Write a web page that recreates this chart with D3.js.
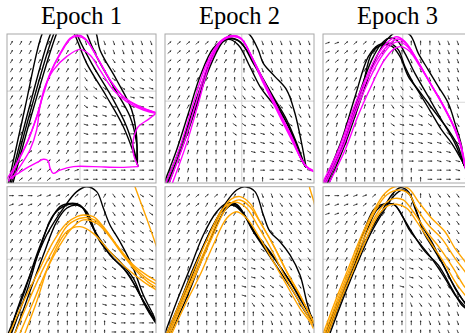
<!DOCTYPE html>
<html><head><meta charset="utf-8">
<script src="https://cdn.jsdelivr.net/npm/d3@7"></script>
<style>html,body{margin:0;padding:0;background:#fff;overflow:hidden}</style>
</head><body>
<svg id="chart" width="465" height="333"></svg>
<script>
// ---------------- DATA (normalized panel coordinates 0..100, y up) ----------------
const titles = ["Epoch 1", "Epoch 2", "Epoch 3"];

// vertical / horizontal grid line positions per panel (row-major: top E1,E2,E3, bottom E1,E2,E3)
const gridX = [49, 51.5, 53.5, 56, 55.5, 55.5];
const gridY = [61.7, 55, 54.2, 51.3, 51.3, 51.3];

// black (reference) trajectories, top row
const blackTop1 = [
  [[1,0],[12.2,51],[23.3,99.3],[30,112],[38,115],[45.6,99.3],[53.5,80.3],[66.9,57.9],[78.1,37.8],[85.9,17.7],[88.1,11]],
  [[2,0],[15,51],[28.9,99.3],[36,114],[42,116],[47.2,99.3],[56.8,80.3],[70.2,57.9],[80.3,37.8],[85.9,19.9],[87.5,12.1]],
  [[3,0],[16.5,51],[31.1,99.3],[40,118],[48,117],[53.9,99.3],[60.2,84.8],[71.4,64.7],[82.6,44.5],[87,26.6],[87.5,13.2]],
  [[4,0],[18,51],[32.9,99.3],[42,120],[54,120],[60.2,99.3],[62.4,89.3],[73.6,69.1],[83.7,49],[87,31],[87,13.2]]
];
const blackTop2 = [
  [[0.5,0],[11.2,26.6],[20.1,53.5],[28,75.8],[34.7,90.4],[42.5,96.4],[49.2,92.6],[57,78.1],[63.8,64.7],[70.5,55.7],[77.2,47.9],[83.9,35.6],[90.6,17.7],[94.6,10.5]],
  [[1.6,0],[13.4,28.9],[22.4,55.7],[30.2,80.3],[36.9,93.7],[41.4,97.1],[50.3,94.9],[59.3,80.3],[68.2,64.7],[77.2,49],[86.1,31.1],[91.7,15.4],[94.6,10.5]],
  [[-0.6,0],[7.8,22.1],[15.7,46.8],[23.5,71.4],[32.4,90.4],[40.3,96],[48.1,96],[54.8,89.3],[63.8,73.6],[72.7,57.9],[81.7,42.3],[88.4,26.6],[94,11]],
  [[2.8,0],[12.3,26.6],[21.3,53.5],[30.2,78.1],[38,93.7],[44.7,100.4],[50.3,104],[57,99.3],[62.6,89.3],[66,80.3],[73.8,71.4],[81.7,62.4],[87.2,46.8],[91.7,26.6],[94.6,11]]
];
const blackTop3 = [
  [[0.7,0],[12.5,28.9],[21.5,57.9],[30.4,84.8],[37.1,92.6],[45,93.7],[50.6,89.3],[55,78.1],[59.5,69.1],[66.2,57.9],[72.9,46.8],[79.6,35.6],[86.4,26.6],[94.2,13.2],[98,6]],
  [[1.9,0],[14.8,28.9],[26,62.4],[32.7,87],[39.4,92.6],[46.1,91.9],[51.7,84.8],[57.3,71.4],[64,62.4],[70.7,53.5],[77.4,44.5],[84.1,35.6],[90.8,24.4],[94.2,13.2],[98,6]],
  [[3,0],[13.6,26.6],[23.7,57.9],[32.7,82.6],[39.4,93.7],[43.8,97.1],[49.4,96],[55,87],[61.7,73.6],[70.7,57.9],[79.6,42.3],[88.6,26.6],[94.2,13.2],[98,6]],
  [[4.1,0],[15.9,28.9],[26,57.9],[34.9,82.6],[42.7,96],[50.6,102],[58.4,99.3],[64,87],[70.7,75.8],[77.4,64.7],[84.1,53.5],[88.6,40],[93.1,24.4],[94.2,13.2],[98,6]]
];
// magenta model trajectories, top row
const magentaTop1 = [
  [[-0.2,2.5],[6.5,13.2],[13.2,26.6],[19.9,44.5],[24.4,60.2],[28.9,73.6],[35.6,87],[42.3,97.1],[47.2,99.3],[52.3,97.1],[60.2,84.8],[69.1,69.1],[78.1,57.9],[89.3,51.2],[100,47.2]],
  [[1,1],[7.5,14.5],[14,28],[20.3,45.5],[24.8,60.8],[29.3,74],[36.2,87.3],[42.8,96.8],[47.5,98.4],[53,96],[61,83.5],[70,68],[79,57],[90,50.5],[100,47.2]],
  [[3.1,2.5],[8.7,11],[15.4,22.1],[19.9,35.6],[22.1,51.2],[25.5,64.7],[31.1,75.8],[40,84.8],[49,89.7],[55.7,85.9],[62.4,75.8],[71.4,62.4],[80.3,54.6],[91.5,49],[100,46.8]],
  [[100,46.8],[94.9,42.7],[88.1,37.8],[84.8,28.9],[84.8,19.9],[88.1,11]],
  [[88.1,11],[75.8,10.5],[57.9,11],[44.5,11],[35.6,8.7],[31.1,6.5],[28.9,10],[27.5,15],[24.4,15.9],[19.9,13.6],[11,8.7],[2,3.1]]
];
const magentaTop2 = [
  [[0.5,0],[10.1,24.4],[19,53.5],[28,80.3],[36.9,94.9],[43.6,98.7],[50.3,97.8],[57,87],[66,66.9],[74.9,49],[83.9,31.1],[90.6,17.7],[95.1,11],[99.1,8.7]],
  [[2.8,0],[12.3,25.5],[20.8,53.5],[29.1,80.3],[37.4,94.9],[44,98.5],[50.8,97.1],[58.2,84.8],[67.1,65.8],[76,47.9],[85,30],[91.1,16.5],[95.1,10.8],[99.4,8.2]],
  [[5,0],[14.5,26.6],[22.4,53.5],[30.2,80.3],[38,94.9],[44.7,98.2],[51.5,96.4],[59.3,82.6],[68.2,64.7],[77.2,46.8],[86.1,28.9],[91.7,15.4],[95.1,10.5],[99.6,7.6]]
];
const magentaTop3 = [
  [[-0.4,0],[10.3,22.1],[19.2,46.8],[28.2,69.1],[37.1,87],[43.8,94.9],[49.4,98.2],[55,94.9],[61.7,84.8],[70.7,69.1],[79.6,53.5],[88.6,35.6],[93.1,22.1],[94.9,13.2],[97,5]],
  [[0.7,0],[11.4,22.1],[20.4,46.8],[29.3,69.1],[38.3,85.9],[45,93.7],[50.1,96.6],[56.2,93.3],[62.9,83],[71.8,67.3],[80.8,51.7],[89.7,33.8],[93.5,21],[94.9,13.2],[97,5]],
  [[1.9,0],[12.5,22.1],[21.5,46.8],[30.4,68],[38.9,84.3],[45.6,92.6],[50.6,94.9],[56.8,91.5],[64,80.8],[72.9,65.6],[81.9,49.9],[90.4,32],[94,19.9],[94.9,13.2],[97,5]],
  [[4.1,0],[14.8,22.1],[23.7,45.6],[32.7,65.8],[40.5,81.4],[47.2,89.7],[51.7,91.5],[57.7,88.8],[65.1,78.1],[74,63.5],[83,47.9],[90.8,30],[94.2,17.7],[94.9,13.2],[97,5]]
];

// black (reference) trajectories, bottom row
const blackBot1 = [
  [[2,0],[4.2,9.4],[15.4,40.7],[26.6,67.6],[37.8,85.5],[46.8,96.7],[53.5,100],[60.2,96.7],[64.7,85.5],[69.1,74.3],[75.8,63.1],[84.8,45.2],[91.5,27.3],[98.2,13.9],[100,9.4]],
  [[0.2,0],[11,27.3],[19.9,54.2],[28.9,76.5],[35.6,86.6],[42.3,88.8],[49,87.7],[55.7,76.5],[62.4,63.1],[71.4,51.9],[80.3,43],[89.3,27.3],[96,16.1],[100,9.4]],
  [[2.4,0],[13.2,29.6],[22.1,58.6],[31.1,81],[40,87.7],[45.6,88.2],[51.2,85.5],[57.9,72.1],[66.9,58.6],[75.8,49.7],[84.8,38.5],[91.5,22.8],[98.2,11.7],[101,7]],
  [[4.7,0],[15.4,29.6],[24.4,54.2],[33.3,76.5],[40,85.5],[46.8,87.7],[53.5,83.2],[60.2,67.6],[69.1,54.2],[78.1,45.2],[87,31.8],[93.7,18.4],[100,8.3]]
];
const blackBot2 = [
  [[0.5,0],[10.1,22.8],[19,45.2],[30.2,69.8],[41.4,90],[48.1,97.8],[53.7,100],[60.4,96.7],[66,81],[70.5,69.8],[77.2,63.1],[83.9,54.2],[90.6,40.7],[95.1,22.8],[98.4,11.7],[100,6]],
  [[-0.6,0],[7.8,22.8],[16.8,45.2],[25.7,67.6],[34.7,83.2],[41.4,88.8],[48.1,88.2],[54.8,78.8],[61.5,67.6],[70.5,56.4],[79.4,43],[88.4,29.6],[95.1,18.4],[99.1,11.7]],
  [[1.6,0],[11.2,22.8],[20.1,45.2],[29.1,67.6],[38,83.2],[44.7,87.7],[51.5,83.2],[58.2,72.1],[66,60.9],[74.9,49.7],[83.9,36.3],[91.7,22.8],[98.4,11.7]],
  [[2.8,0],[13.4,22.8],[22.4,45.2],[31.3,66.5],[40.3,84.3],[45.9,88.2],[52.6,82.1],[59.3,69.8],[68.2,56.4],[77.2,43],[86.1,29.6],[94,16.1],[99.1,9.4]]
];
const blackBot3 = [
  [[3,0],[12.5,25.1],[21.5,47.4],[30.4,67.6],[39.4,83.2],[46.1,94.4],[51.7,99.3],[57.3,96.7],[61.7,85.5],[66.2,74.3],[72.9,63.1],[79.6,49.7],[86.4,36.3],[93.1,25.1],[97.5,19.5],[101,15]],
  [[0.7,0],[10.3,22.8],[19.2,45.2],[28.2,72.1],[34.9,85.5],[43.8,88.8],[48.3,87.7],[52.8,81],[59.5,69.8],[68.5,56.4],[77.4,47.4],[86.4,31.8],[93.1,20.6],[97.5,17],[101,14]],
  [[1.9,0],[11.4,22.8],[20.4,45.2],[29.3,69.8],[36,84.3],[41.6,88.2],[47.2,88.2],[51.7,83.2],[57.3,72.1],[64,63.1],[72.9,51.9],[81.9,38.5],[88.6,27.3],[95.3,19.5],[97.5,16.1],[101,13]],
  [[4.1,0],[13.6,25.1],[22.6,47.4],[31.5,67.6],[40.5,83.2],[47.2,93.3],[53.2,97.8],[58.4,94.4],[62.9,83.2],[67.3,69.8],[74,58.6],[81.9,45.2],[88.6,31.8],[95.3,21.7],[97.5,18.4],[101,15]]
];
// orange model trajectories, bottom row
const orangeBot1 = [
  [[1.2,0],[11,22.8],[22.1,45.2],[31.1,63.1],[40,75.4],[46.8,79.9],[51.2,81],[57.9,79.9],[64.7,73.2],[73.6,60.9],[84.8,47.4],[93.7,40.7],[100.4,36.7]],
  [[4.7,0],[14.3,22.8],[24.4,45.2],[33.3,62],[41,74.3],[51.2,79.2],[59,77.6],[66.9,69.8],[75.8,57.5],[85.9,45.2],[93.7,38.5],[100.4,34.5]],
  [[8,0],[17.7,22.8],[26.6,44.1],[35.6,60.9],[43.5,72.1],[51.2,77.7],[60.2,75.4],[68,67.6],[77,55.3],[87,43],[94.9,35.8],[100.4,32.3]],
  [[11.4,0],[19.9,22.8],[28.9,49.7],[40,69.8],[49,73.2],[57.9,68.7],[69.1,56.4],[80.3,45.2],[91.5,36.3],[100.4,30.7]],
  [[84.5,104],[85.9,100],[93.7,78.8],[100.4,59.7]]
];
const orangeBot2 = [
  [[1.6,0],[12.3,25.1],[21.3,45.2],[30.2,65.3],[39.1,85.5],[44.7,91.8],[50.3,93.3],[57,88.8],[63.8,76.5],[72.7,60.9],[81.7,43],[90.6,27.3],[96.2,16.1],[99.6,9.4]],
  [[2.8,0],[13.4,25.1],[22.4,45.2],[31.3,65.3],[40.3,84.3],[45.9,90],[50.3,91.1],[57,86.6],[64.9,74.3],[73.8,58.6],[82.8,40.7],[91.7,25.1],[97.3,13.9],[100,8.3]],
  [[0.5,0],[11.2,25.1],[20.1,46.3],[29.1,66.4],[38,84.3],[43.6,88.8],[48.5,89.5],[54.8,85.5],[62.6,73.2],[71.6,57.5],[80.5,39.6],[89.5,24],[96.2,12.8],[99,8]],
  [[3.9,0],[14.5,22.8],[23.5,40.7],[32.4,60.9],[41.4,78.8],[48.1,83.2],[54.8,78.8],[63.8,65.3],[72.7,49.7],[81.7,34],[90.6,18.4],[97.3,9.4],[99.6,4.9]],
  [[96.5,104],[96.9,100],[99.6,91.1],[101,85]]
];
const orangeBot3 = [
  [[-0.4,0],[8.1,22.8],[17,45.2],[26,67.6],[34.9,85.5],[41.6,95.6],[48.3,100],[57.3,98.9],[64,90],[72.9,78.8],[81.9,69.8],[88.6,58.6],[95.3,49.7],[99.8,43]],
  [[0.7,0],[9.2,22.8],[18.1,45.2],[27.1,67.6],[36,85.5],[42.7,94.4],[50.6,97.8],[57.3,95.5],[62.9,85.5],[70.7,74.3],[79.6,65.3],[88.6,51.9],[95.3,43],[99.8,36.3]],
  [[1.9,0],[10.3,22.8],[19.2,45.2],[28.2,66.5],[37.1,83.2],[43.8,90.4],[48.3,92.2],[53.9,91.1],[60.6,83.2],[69.6,69.8],[78.5,58.6],[87.5,45.2],[94.2,34],[99.8,27.3]],
  [[3,0],[11.4,22.8],[20.4,44.1],[29.3,65.3],[37.1,81],[43.8,87.3],[49.4,88.2],[56.2,85.5],[62.9,76.5],[71.8,63.1],[80.8,49.7],[88.6,36.3],[95.3,27.3],[99.8,22.8]]
];

// vector field: 16 rows (top to bottom) x 16 columns, one digit = orientation class
const fieldAngles = [0, 20, 40, 60, 75, 90, -70, -55, -35, -15];
const field1 = [
  "3333333366666666","3333333366666666","3333333367777777","3333333377777777",
  "3333333377888888","3333333378888899","3333333388889999","3333333389999990",
  "3333333399990000","3333333399000000","3333333390000000","2333333300000000",
  "2222333200000000","2222222100000000","2222221100000000","2222211000000000"
];
const field2 = [
  "2222233455666666","2222333455666666","2233333456666666","3333334456666666",
  "3333344567766666","3333444677776666","3333445778777666","3334445788877766",
  "3334445788887776","3344455889888877","3444455899988887","4444455599998888",
  "4444555559999988","4445555550099999","4445555555000999","4445555555500099"
];
const field3 = [
  "1122233455556666","1222333455556666","2233333456666666","2333334456666666",
  "3333344567666666","3333444677766666","3333445778776666","3334445788877666",
  "3344455889887766","3444455899988877","4444555899998887","4444555599999888",
  "4445555550999988","4455555550009999","4455555555000099","4555555555500009"
];
const field4 = [
  "0001112222377788","1112223333477778","2223333333477778","3333333334477788",
  "3333333344677888","3333333344778888","3333333444788888","3333334444788889",
  "3333344444888899","3333444445889999","3334444445899999","3344444455999990",
  "3444444555999900","3444445555999000","4444455555590000","4444555555500000"
];
const field5 = [
  "2222223345667777","2222333345667777","2233333345667777","3333333445667777",
  "3333334446677777","3333344457777777","3333444478877777","3334444588887777",
  "3344445589887777","3444455589888777","4444555599888777","4444555598887777",
  "4445555557777777","4455555555777666","4555555555566666","5555555555556666"
];
const field6 = [
  "0011122344567777","1111222344567777","1122333344567777","2233333344667777",
  "3333333445667777","3333334446777777","3333344458877777","3333444588887777",
  "3344445589887777","3444455589887777","4444555598877777","4455555557777766",
  "4555555556776666","5555555555666666","5555555555566666","5555555555556666"
];

// ---------------- DRAWING ----------------
const panels = [
  {black: blackTop1, model: magentaTop1, color: "#ff00ff", field: field1},
  {black: blackTop2, model: magentaTop2, color: "#ff00ff", field: field2},
  {black: blackTop3, model: magentaTop3, color: "#ff00ff", field: field3},
  {black: blackBot1, model: orangeBot1, color: "#ffa500", field: field4},
  {black: blackBot2, model: orangeBot2, color: "#ffa500", field: field5},
  {black: blackBot3, model: orangeBot3, color: "#ffa500", field: field6}
];

const svg = d3.select("#chart");
const lefts = [7, 165, 323], tops = [34, 186.7], size = 149;

titles.forEach((t, c) => {
  svg.append("text")
    .attr("x", lefts[c] + size / 2).attr("y", 23.5)
    .attr("text-anchor", "middle")
    .style("font-family", "'Liberation Serif','Times New Roman',serif")
    .style("font-size", "24.5px").attr("fill", "#000").text(t);
});

panels.forEach((p, k) => {
  const c = k % 3, r = Math.floor(k / 3);
  const x = d3.scaleLinear().domain([0, 100]).range([lefts[c], lefts[c] + size]);
  const y = d3.scaleLinear().domain([0, 100]).range([tops[r] + size, tops[r]]);
  const clipId = "clip" + k;
  svg.append("clipPath").attr("id", clipId).append("rect")
    .attr("x", x(0)).attr("y", y(100)).attr("width", size).attr("height", size);
  const g = svg.append("g").attr("clip-path", `url(#${clipId})`);

  // grid
  g.append("line").attr("x1", x(gridX[k])).attr("x2", x(gridX[k])).attr("y1", y(0)).attr("y2", y(100))
    .attr("stroke", "#d9d9d9").attr("stroke-width", 1.2);
  g.append("line").attr("x1", x(0)).attr("x2", x(100)).attr("y1", y(gridY[k])).attr("y2", y(gridY[k]))
    .attr("stroke", "#d9d9d9").attr("stroke-width", 1.2);

  // vector field
  const L = 4.6;
  const arrows = [];
  p.field.forEach((row, j) => {
    row.split("").forEach((ch, i) => {
      arrows.push({xv: 3 + i * 6.25, yv: 94 - j * 6.1, a: fieldAngles[+ch] * Math.PI / 180});
    });
  });
  const ag = g.append("g");
  arrows.forEach(d => {
    const cx = x(d.xv), cy = y(d.yv);
    const dx = Math.cos(d.a) * L / 2, dy = -Math.sin(d.a) * L / 2;
    const hx = cx + dx, hy = cy + dy;
    ag.append("line").attr("x1", cx - dx).attr("y1", cy - dy).attr("x2", hx).attr("y2", hy)
      .attr("stroke", "#222").attr("stroke-width", 0.8);
    const ux = dx / (L / 2), uy = dy / (L / 2), hl = 1.5, hw = 0.9;
    const bx = hx - ux * hl, by = hy - uy * hl;
    ag.append("path")
      .attr("d", `M${hx},${hy}L${bx - uy * hw},${by + ux * hw}L${bx + uy * hw},${by - ux * hw}Z`)
      .attr("fill", "#222");
  });

  const line = d3.line().x(d => x(d[0])).y(d => y(d[1])).curve(d3.curveCatmullRom.alpha(0.5));
  p.black.forEach(cv => g.append("path").attr("d", line(cv)).attr("fill", "none")
    .attr("stroke", "#000").attr("stroke-width", 1.4));
  p.model.forEach(cv => g.append("path").attr("d", line(cv)).attr("fill", "none")
    .attr("stroke", p.color).attr("stroke-width", 1.4));

  // border
  svg.append("rect").attr("x", x(0)).attr("y", y(100)).attr("width", size).attr("height", size)
    .attr("fill", "none").attr("stroke", "#a8a8a8").attr("stroke-width", 1);
});
</script>
</body></html>
